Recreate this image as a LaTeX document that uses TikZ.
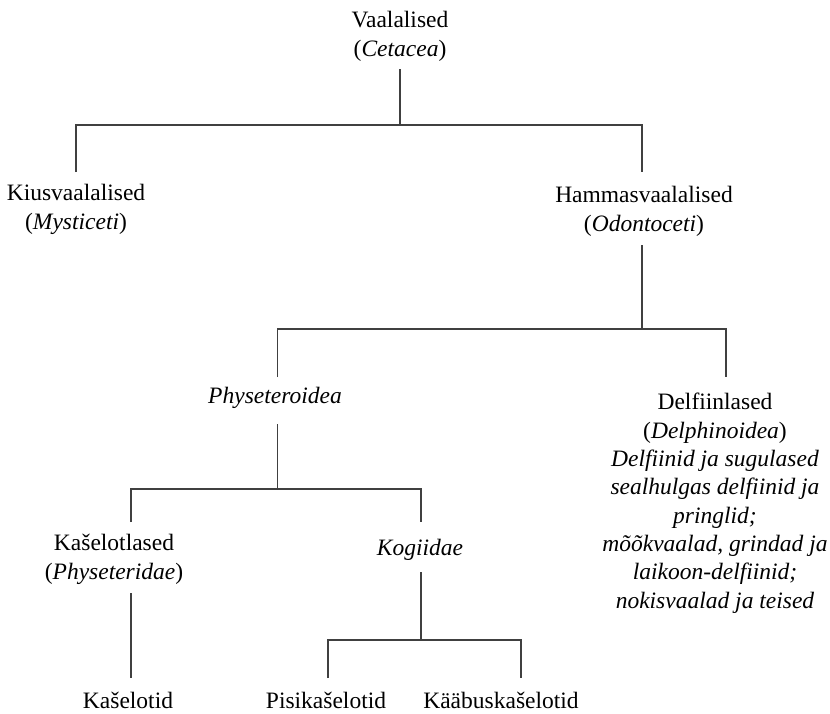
\documentclass[tikz,border=0pt]{standalone}
\usepackage{fontspec}
\setmainfont{Liberation Serif}
\begin{document}
\begin{tikzpicture}[x=1pt,y=-1pt,
  taxon/.style={inner sep=0pt, align=center, font=\fontsize{23.5}{29}\selectfont, anchor=base},
  longtaxon/.style={taxon, font=\fontsize{23.5}{28.3}\selectfont},
  branch/.style={draw=black!75, line width=1.2pt}]
\useasboundingbox (0,0) rectangle (830,713);
% nodes (anchor = baseline of the last line)
\node[taxon] (root) at (400,56) {Vaalalised\\(\textit{Cetacea})};
\node[taxon] (kius) at (76,229) {Kiusvaalalised\\(\textit{Mysticeti})};
\node[taxon] (hamm) at (644,231) {Hammasvaalalised\\(\textit{Odontoceti})};
\node[taxon] (phys) at (275,403) {\textit{Physeteroidea}};
\node[longtaxon] (delf) at (715,608) {Delfiinlased\\(\textit{Delphinoidea})\\\textit{Delfiinid ja sugulased}\\\textit{sealhulgas delfiinid ja}\\\textit{pringlid;}\\\textit{mõõkvaalad, grindad ja}\\\textit{laikoon-delfiinid;}\\\textit{nokisvaalad ja teised}};
\node[taxon] (kasl) at (114,579) {Kašelotlased\\(\textit{Physeteridae})};
\node[taxon] (kogi) at (420,555) {\textit{Kogiidae}};
\node[taxon] (kas) at (128,708) {Kašelotid};
\node[taxon] (pisi) at (326,708) {Pisikašelotid};
\node[taxon] (kaab) at (501,708) {Kääbuskašelotid};
% connector ends
\coordinate (root-b) at (400,69);
\coordinate (j1) at (400,125);
\coordinate (kius-t) at (76,172);
\coordinate (hamm-t) at (642,172);
\coordinate (hamm-b) at (642,245);
\coordinate (j2) at (642,329);
\coordinate (phys-t) at (277.5,377);
\coordinate (delf-t) at (726,377);
\coordinate (phys-b) at (277.5,424);
\coordinate (j3) at (277.5,489);
\coordinate (kasl-t) at (131,522);
\coordinate (kogi-t) at (421,522);
\coordinate (kasl-b) at (131,593);
\coordinate (kas-t) at (131,678);
\coordinate (kogi-b) at (421,572);
\coordinate (j4) at (421,640);
\coordinate (pisi-t) at (328,678);
\coordinate (kaab-t) at (521,678);
% connectors
\draw[branch] (root-b) -- (j1);
\draw[branch] (kius-t) |- (j1) -| (hamm-t);
\draw[branch] (hamm-b) -- (j2);
\draw[branch] (phys-t) |- (j2) -| (delf-t);
\draw[branch] (phys-b) -- (j3);
\draw[branch] (kasl-t) |- (j3) -| (kogi-t);
\draw[branch] (kasl-b) -- (kas-t);
\draw[branch] (kogi-b) -- (j4);
\draw[branch] (pisi-t) |- (j4) -| (kaab-t);
\end{tikzpicture}
\end{document}
